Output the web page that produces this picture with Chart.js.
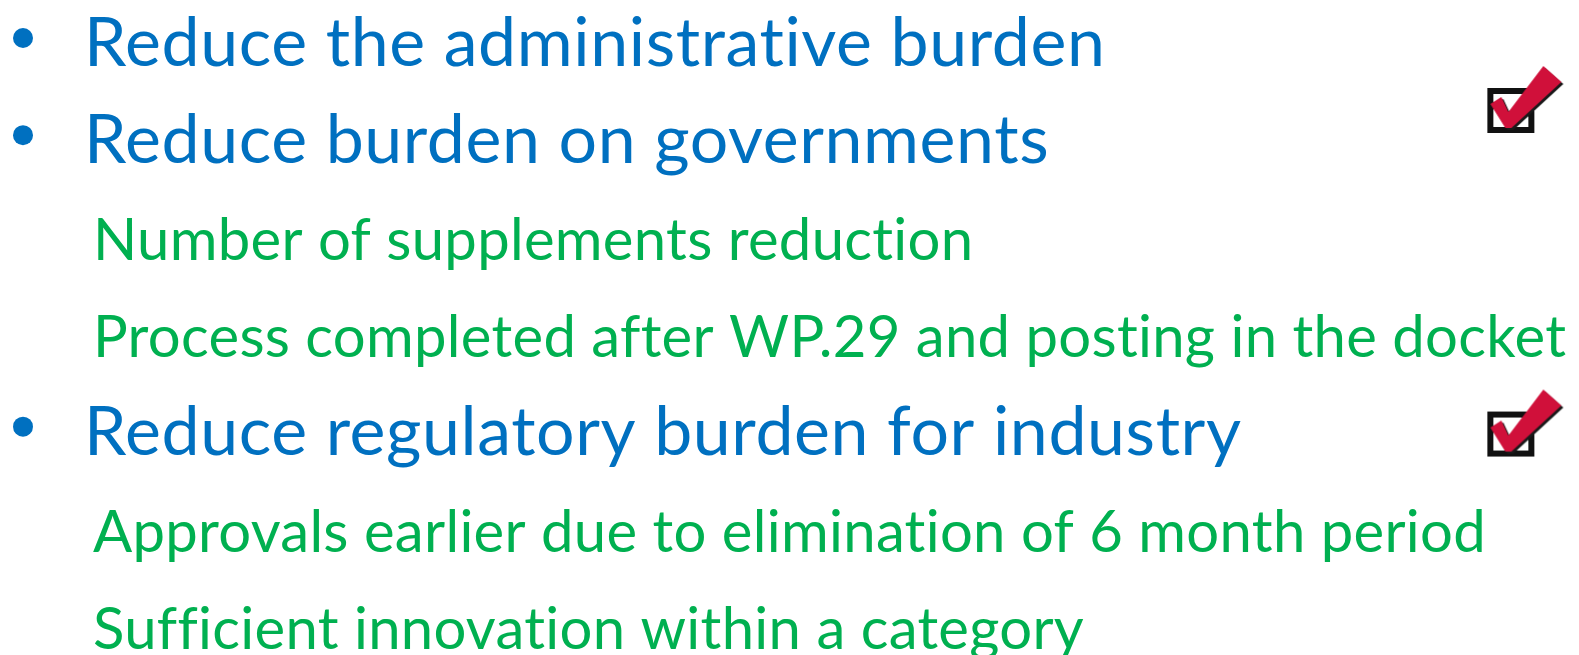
<!DOCTYPE html>
<html>
<head>
<meta charset="utf-8">
<script src="https://cdn.jsdelivr.net/npm/chart.js@4.4.1/dist/chart.umd.min.js"></script>
<style>
  html, body { margin: 0; padding: 0; background: #fff; }
  #wrap { width: 1579px; height: 655px; position: relative; }
</style>
</head>
<body>
<div id="wrap"><canvas id="slide"></canvas></div>
<script>
// slide rows, top to bottom
const lines = [
  'Reduce the administrative burden',
  'Reduce burden on governments',
  'Number of supplements reduction',
  'Process completed after WP.29 and posting in the docket',
  'Reduce regulatory burden for industry',
  'Approvals earlier due to elimination of 6 month period',
  'Sufficient innovation within a category'
];
const levels = [1, 1, 2, 2, 1, 2, 2];

// the two tick boxes (row position, horizontal % of width)
const checkRows = [0.35, 3.68];
const checkCols = [96.6, 96.6];

const levelStyle = {
  1: { color: '#0070C0', size: 68, spacing: '0.6px', x: 84, bullet: true },
  2: { color: '#00B050', size: 58, spacing: '0.3px', x: 93, bullet: false }
};

function makeCheck() {
  const c = document.createElement('canvas');
  c.width = 78; c.height = 70;
  const g = c.getContext('2d');
  // box
  g.fillStyle = '#111';
  g.fillRect(1, 23, 47, 45);
  g.fillStyle = '#fff';
  g.fillRect(7, 29, 35, 33);
  const pts = [[4, 39], [15, 32], [22, 47], [57, 1], [75, 17], [25, 63], [19, 63]];
  const poly = (dx, dy) => {
    g.beginPath();
    pts.forEach((p, i) => i ? g.lineTo(p[0] + dx, p[1] + dy) : g.moveTo(p[0] + dx, p[1] + dy));
    g.closePath();
    g.fill();
  };
  g.fillStyle = '#1a1a1a';
  poly(2, 2);
  g.fillStyle = '#D0103A';
  poly(0, 0);
  return c;
}

const textRows = {
  id: 'textRows',
  afterDatasetsDraw(chart) {
    const ctx = chart.ctx;
    const y = chart.scales.y;
    ctx.save();
    ctx.textAlign = 'left';
    ctx.textBaseline = 'alphabetic';
    lines.forEach((txt, i) => {
      const st = levelStyle[levels[i]];
      const py = y.getPixelForValue(i);
      ctx.fillStyle = st.color;
      ctx.font = st.size + 'px Lato';
      ctx.letterSpacing = st.spacing; // also stops the "ti"/"ffi" ligatures
      ctx.fillText(txt, st.x, py);
      if (st.bullet) {
        ctx.beginPath();
        ctx.arc(23, py - 28, 10, 0, Math.PI * 2);
        ctx.fill();
      }
    });
    ctx.restore();
  }
};

const checkIcon = makeCheck();

new Chart(document.getElementById('slide'), {
  type: 'scatter',
  data: {
    datasets: [{
      data: checkRows.map((r, i) => ({ x: checkCols[i], y: r })),
      pointStyle: checkIcon,
      pointRadius: 30
    }]
  },
  options: {
    responsive: true,
    maintainAspectRatio: false,
    animation: false,
    events: [],
    layout: { padding: 0, autoPadding: false },
    plugins: { legend: { display: false }, tooltip: { enabled: false } },
    scales: {
      x: { type: 'linear', min: 0, max: 100, display: false },
      y: { type: 'linear', min: -0.679, max: 6.062, reverse: true, display: false }
    }
  },
  plugins: [textRows]
});
</script>
</body>
</html>
